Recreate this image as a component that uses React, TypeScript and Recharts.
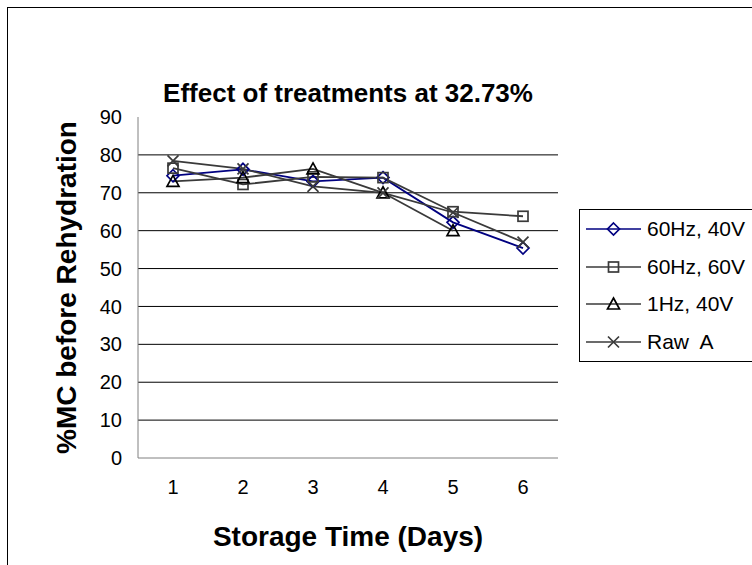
import { LineChart, Line, XAxis, YAxis, CartesianGrid } from 'recharts';

document.body.style.margin = '0';

const days = ['1', '2', '3', '4', '5', '6'];
const hz60v40 = [74.5, 76.2, 73, 74, 62.2, 55.4];
const hz60v60 = [76.5, 72.2, 74.2, 74, 65, 63.8];
const hz1v40 = [73, 74, 76.3, 70, 60, null];
const rawA = [78.4, 76.3, 71.7, 70, 64.8, 57];
const yTicks = [0, 10, 20, 30, 40, 50, 60, 70, 80, 90];

const data = days.map((day, i) => ({
  day,
  hz60v40: hz60v40[i],
  hz60v60: hz60v60[i],
  hz1v40: hz1v40[i],
  rawA: rawA[i],
}));

const FONT = '"Liberation Sans", Arial, sans-serif';
const FRAME = '#808080';

type Shape = 'diamond' | 'square' | 'triangle' | 'cross';

function Marker({ shape, cx, cy, stroke }: { shape: Shape; cx: number; cy: number; stroke: string }) {
  if (cx == null || cy == null) return null;
  const common = { fill: 'none', stroke, strokeWidth: 1.7 };
  if (shape === 'diamond') {
    return <polygon points={`${cx},${cy - 6} ${cx + 6},${cy} ${cx},${cy + 6} ${cx - 6},${cy}`} {...common} />;
  }
  if (shape === 'square') {
    return <rect x={cx - 5} y={cy - 5} width={10} height={10} {...common} />;
  }
  if (shape === 'triangle') {
    return <polygon points={`${cx},${cy - 6} ${cx + 6},${cy + 5} ${cx - 6},${cy + 5}`} {...common} />;
  }
  return (
    <path d={`M${cx - 5.5},${cy - 5.5}L${cx + 5.5},${cy + 5.5}M${cx + 5.5},${cy - 5.5}L${cx - 5.5},${cy + 5.5}`} {...common} />
  );
}

const series: { key: string; name: string; color: string; markerColor: string; shape: Shape }[] = [
  { key: 'hz60v40', name: '60Hz, 40V', color: '#000080', markerColor: '#000080', shape: 'diamond' },
  { key: 'hz60v60', name: '60Hz, 60V', color: '#3a3a3a', markerColor: '#3a3a3a', shape: 'square' },
  { key: 'hz1v40', name: '1Hz, 40V', color: '#3a3a3a', markerColor: '#000000', shape: 'triangle' },
  { key: 'rawA', name: 'Raw  A', color: '#3a3a3a', markerColor: '#3a3a3a', shape: 'cross' },
];

function LegendBox() {
  return (
    <div
      style={{
        position: 'absolute',
        left: 579,
        top: 209,
        width: 190,
        border: '1px solid #000',
        background: '#fff',
        paddingLeft: 6,
      }}
    >
      {series.map((s) => (
        <div key={s.key} style={{ display: 'flex', alignItems: 'center', height: 37.7, fontFamily: FONT, fontSize: 21 }}>
          <svg width={55} height={16} style={{ marginRight: 6 }}>
            <line x1={0} y1={8} x2={55} y2={8} stroke={s.color} strokeWidth={1.6} />
            <Marker shape={s.shape} cx={27.5} cy={8} stroke={s.markerColor} />
          </svg>
          <span style={{ whiteSpace: 'pre' }}>{s.name}</span>
        </div>
      ))}
    </div>
  );
}

export default function App() {
  return (
    <div style={{ position: 'relative', width: 752, height: 565, overflow: 'hidden', background: '#fff' }}>
      <div
        style={{
          position: 'absolute',
          left: 7,
          top: 7,
          width: 800,
          height: 600,
          border: '1px solid #000',
        }}
      />
      <div
        style={{
          position: 'absolute',
          left: 98,
          top: 80,
          width: 500,
          textAlign: 'center',
          fontFamily: FONT,
          fontWeight: 'bold',
          fontSize: 26,
          lineHeight: 1,
        }}
      >
        Effect of treatments at 32.73%
      </div>
      <div style={{ position: 'absolute', left: 0, top: 0 }}>
        <LineChart
          width={752}
          height={565}
          data={data}
          margin={{ top: 117, right: 194, bottom: 17, left: 0 }}
        >
          <CartesianGrid vertical={false} horizontalValues={[10, 20, 30, 40, 50, 60, 70, 80]} stroke="#000" />
          <XAxis
            dataKey="day"
            height={90}
            padding={{ left: 35, right: 35 }}
            axisLine={{ stroke: FRAME }}
            tickLine={false}
            tickSize={0}
            tickMargin={22}
            tick={{ fill: '#000', fontSize: 20, fontFamily: FONT }}
            label={{
              value: 'Storage Time (Days)',
              position: 'insideBottom',
              offset: 2,
              fill: '#000',
              fontSize: 28,
              fontWeight: 'bold',
              fontFamily: FONT,
            }}
          />
          <XAxis
            xAxisId="top"
            dataKey="day"
            orientation="top"
            height={0}
            axisLine={{ stroke: FRAME }}
            tickLine={false}
            tick={false}
          />
          <YAxis
            width={138}
            domain={[0, 90]}
            ticks={yTicks}
            axisLine={{ stroke: FRAME }}
            tickLine={false}
            tickSize={0}
            tickMargin={16}
            tick={{ fill: '#000', fontSize: 20, fontFamily: FONT }}
            label={{
              value: '%MC before Rehydration',
              angle: -90,
              position: 'center',
              dx: -3,
              fill: '#000',
              fontSize: 28,
              fontWeight: 'bold',
              fontFamily: FONT,
            }}
          />
          <YAxis
            yAxisId="right"
            orientation="right"
            width={0}
            domain={[0, 90]}
            axisLine={{ stroke: FRAME }}
            tickLine={false}
            tick={false}
          />
          {series.map((s) => (
            <Line
              key={s.key}
              type="linear"
              dataKey={s.key}
              name={s.name}
              stroke={s.color}
              strokeWidth={1.8}
              isAnimationActive={false}
              connectNulls={false}
              dot={(p: any) => <Marker key={`${s.key}-${p.index}`} shape={s.shape} cx={p.cx} cy={p.cy} stroke={s.markerColor} />}
              activeDot={false}
            />
          ))}
        </LineChart>
      </div>
      <LegendBox />
    </div>
  );
}
